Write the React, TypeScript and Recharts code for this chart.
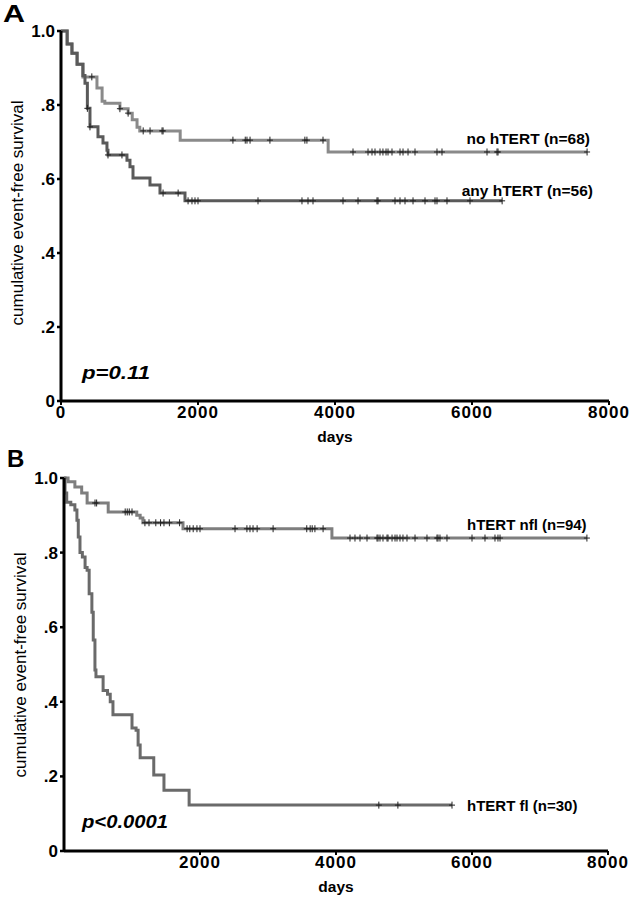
import React from "react";
import { ComposedChart, Line, Scatter, XAxis, YAxis } from "recharts";

// Panel A: no hTERT vs any hTERT (event times in days, survival after each step)
const noTimes = [0, 90, 160, 235, 320, 525, 600, 640, 860, 980, 1040, 1110, 1150, 1740, 3900, 7680];
const noSurv = [1, 0.965, 0.94, 0.91, 0.876, 0.846, 0.81, 0.805, 0.79, 0.778, 0.76, 0.74, 0.73, 0.705, 0.673, 0.673];
const noCensored = [450, 860, 980, 1200, 1300, 1475, 1490, 2510, 2690, 2715, 2760, 3050, 3560, 3590, 3825, 4263, 4482, 4540, 4584, 4657, 4700, 4745, 4774, 4832, 4949, 4993, 5066, 5168, 5489, 5562, 6219, 6365, 6380, 7680];

const anyTimes = [0, 90, 160, 235, 320, 350, 385, 423, 540, 613, 671, 686, 963, 1007, 1051, 1299, 1445, 1810, 6440];
const anySurv = [1, 0.965, 0.94, 0.91, 0.88, 0.859, 0.791, 0.741, 0.714, 0.697, 0.678, 0.665, 0.651, 0.633, 0.603, 0.584, 0.562, 0.541, 0.541];
const anyCensored = [385, 423, 686, 890, 1490, 1710, 1855, 1912, 1956, 2000, 2876, 3518, 3606, 3679, 4117, 4336, 4613, 4628, 4876, 4949, 5022, 5139, 5314, 5460, 5489, 5635, 5971, 6440];

// Panel B: hTERT nfl vs hTERT fl
const nflTimes = [0, 60, 160, 260, 340, 650, 1070, 1120, 1160, 1750, 3940, 7690];
const nflSurv = [1, 0.99, 0.976, 0.96, 0.933, 0.909, 0.9, 0.893, 0.88, 0.864, 0.839, 0.839];
const nflCensored = [456, 480, 900, 930, 960, 1000, 1190, 1250, 1350, 1420, 1470, 1550, 1700, 1810, 1850, 1900, 1955, 2000, 2515, 2690, 2735, 2780, 2840, 3075, 3570, 3620, 3650, 3690, 3810, 4206, 4279, 4353, 4456, 4603, 4618, 4647, 4691, 4750, 4765, 4824, 4868, 4897, 4941, 4985, 5044, 5162, 5338, 5485, 5500, 5529, 5632, 6000, 6191, 6338, 6382, 6412, 7690];

const flTimes = [0, 15, 40, 100, 160, 190, 210, 235, 270, 310, 340, 370, 410, 430, 455, 470, 575, 640, 680, 720, 1000, 1060, 1090, 1120, 1320, 1470, 1840, 5706];
const flSurv = [1, 0.96, 0.935, 0.928, 0.914, 0.887, 0.842, 0.8, 0.788, 0.76, 0.753, 0.69, 0.64, 0.566, 0.485, 0.467, 0.43, 0.42, 0.4, 0.365, 0.33, 0.324, 0.284, 0.25, 0.204, 0.163, 0.123, 0.123];
const flCensored = [4630, 4910, 5706];

const xTicksA = [0, 2000, 4000, 6000, 8000];
const xTicksB = [2000, 4000, 6000, 8000];
const yTicks = [0, 0.2, 0.4, 0.6, 0.8, 1];

const FONT = "'Liberation Sans', Arial, Helvetica, sans-serif";

function stepAt(times: number[], surv: number[], t: number) {
  let s = surv[0];
  for (let i = 0; i < times.length; i++) if (times[i] <= t) s = surv[i];
  return s;
}
const toSteps = (times: number[], surv: number[]) => times.map((t, i) => ({ t, s: surv[i] }));
const toMarks = (cens: number[], times: number[], surv: number[]) =>
  cens.map((t) => ({ t, s: stepAt(times, surv, t) }));

const yFmt = (v: number) => (v === 0 ? "0" : v === 1 ? "1.0" : String(v).replace(/^0/, ""));

const censorShape = (p: any) => {
  const { cx, cy } = p;
  if (cx == null || cy == null) return <g />;
  return (
    <path
      d={`M${cx},${cy - 3.5}V${cy + 3.5}M${cx - 3},${cy}H${cx + 3}`}
      stroke="#222"
      strokeWidth={1}
      fill="none"
    />
  );
};

interface Curve { data: { t: number; s: number }[]; marks: { t: number; s: number }[]; color: string }
interface PanelProps {
  height: number; axisW: number; rightM: number; xAxisH: number; xTicks: number[]; curves: Curve[];
}

function Panel({ height, axisW, rightM, xAxisH, xTicks, curves }: PanelProps) {
  const tick = { fill: "#000", fontSize: 17, fontWeight: 700, fontFamily: FONT };
  return (
    <ComposedChart width={636} height={height} margin={{ top: 31, right: rightM, bottom: 0, left: 0 }}>
      <XAxis
        dataKey="t" type="number" domain={[0, 8000]} ticks={xTicks} height={xAxisH}
        axisLine={{ stroke: "#000", strokeWidth: 3 }} tickLine={{ stroke: "#000", strokeWidth: 2 }}
        tickSize={4} tickMargin={1} tick={{ ...tick, letterSpacing: 1 }} allowDataOverflow
      />
      <YAxis
        dataKey="s" type="number" domain={[0, 1]} ticks={yTicks} width={axisW} tickFormatter={yFmt}
        axisLine={{ stroke: "#000", strokeWidth: 3 }} tickLine={{ stroke: "#000", strokeWidth: 2.5 }}
        tickSize={4} tickMargin={2} tick={tick}
      />
      {curves.map((c, i) => (
        <Line key={"l" + i} data={c.data} dataKey="s" type="stepAfter" stroke={c.color}
          strokeWidth={3} dot={false} activeDot={false} isAnimationActive={false} />
      ))}
      {curves.map((c, i) => (
        <Scatter key={"m" + i} data={c.marks} dataKey="s" shape={censorShape} isAnimationActive={false} />
      ))}
    </ComposedChart>
  );
}

export default function App() {
  const curvesA: Curve[] = [
    { data: toSteps(noTimes, noSurv), marks: toMarks(noCensored, noTimes, noSurv), color: "#8a8a8a" },
    { data: toSteps(anyTimes, anySurv), marks: toMarks(anyCensored, anyTimes, anySurv), color: "#5a5a5a" },
  ];
  const curvesB: Curve[] = [
    { data: toSteps(nflTimes, nflSurv), marks: toMarks(nflCensored, nflTimes, nflSurv), color: "#7e7e7e" },
    { data: toSteps(flTimes, flSurv), marks: toMarks(flCensored, flTimes, flSurv), color: "#6a6a6a" },
  ];
  const label = { fontFamily: FONT, fontWeight: 700, fill: "#000" } as const;

  return (
    <div style={{ position: "absolute", left: 0, top: 0, width: 636, height: 899, background: "#fff" }}>
      <div style={{ position: "absolute", left: 0, top: 0 }}>
        <Panel height={446} axisW={61} rightM={27} xAxisH={45} xTicks={xTicksA} curves={curvesA} />
      </div>
      <div style={{ position: "absolute", left: 0, top: 447 }}>
        <Panel height={452} axisW={64} rightM={28} xAxisH={48} xTicks={xTicksB} curves={curvesB} />
      </div>
      <svg width={636} height={899} style={{ position: "absolute", left: 0, top: 0, pointerEvents: "none" }}>
        <text x={3} y={22} fontSize={24} textLength={22} lengthAdjust="spacingAndGlyphs" {...label}>A</text>
        <text x={7} y={467} fontSize={24} {...label}>B</text>

        <text x={23} y={213} fontSize={17} fontFamily={FONT} fill="#000" textAnchor="middle"
          transform="rotate(-90 23 213)">cumulative event-free survival</text>
        <text x={25.5} y={665} fontSize={17} fontFamily={FONT} fill="#000" textAnchor="middle"
          transform="rotate(-90 25.5 665)">cumulative event-free survival</text>

        <text x={335} y={442} fontSize={15.5} textAnchor="middle" {...label}>days</text>
        <text x={336} y={892} fontSize={15.5} textAnchor="middle" {...label}>days</text>

        <text x={590} y={144} fontSize={15.5} textAnchor="end" {...label}>no hTERT (n=68)</text>
        <text x={593} y={196} fontSize={15.5} textAnchor="end" {...label}>any hTERT (n=56)</text>
        <text x={467} y={530} fontSize={15} {...label}>hTERT nfl (n=94)</text>
        <text x={467} y={811} fontSize={15} {...label}>hTERT fl (n=30)</text>

        <text x={82} y={379} fontSize={19} fontStyle="italic" textLength={68} lengthAdjust="spacingAndGlyphs" {...label}>p=0.11</text>
        <text x={82} y={828} fontSize={19} fontStyle="italic" textLength={86} lengthAdjust="spacingAndGlyphs" {...label}>p&lt;0.0001</text>
      </svg>
    </div>
  );
}
